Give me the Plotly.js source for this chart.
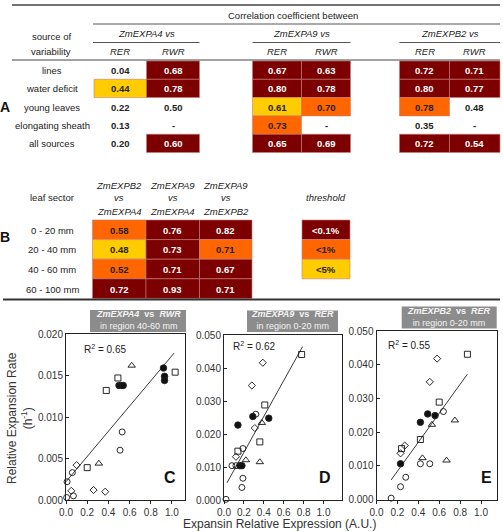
<!DOCTYPE html>
<html>
<head>
<meta charset="utf-8">
<script src="https://cdn.plot.ly/plotly-3.0.1.min.js"></script>
<style>
  html, body { margin: 0; padding: 0; background: #fff; }
  #fig { width: 503px; height: 532px; }
</style>
</head>
<body>
<div id="fig"></div>
<script>
// ---------------- Table A: correlation coefficients ----------------
const sourceRows = ['lines', 'water deficit', 'young leaves', 'elongating sheath', 'all sources'];
const geneGroupsA = ['ZmEXPA4 vs', 'ZmEXPA9 vs', 'ZmEXPB2 vs'];
const growthVars = ['RER', 'RWR'];
const a4RER = [0.04, 0.44, 0.22, 0.13, 0.20];
const a4RWR = [0.68, 0.78, 0.50, null, 0.60];
const a9RER = [0.67, 0.80, 0.61, 0.73, 0.65];
const a9RWR = [0.63, 0.78, 0.70, null, 0.69];
const b2RER = [0.72, 0.80, 0.78, 0.35, 0.72];
const b2RWR = [0.71, 0.77, 0.48, null, 0.54];
// significance level: 3 = <0.1%, 2 = <1%, 1 = <5%, 0 = not significant
const a4RERsig = [0, 1, 0, 0, 0];
const a4RWRsig = [3, 3, 0, 0, 3];
const a9RERsig = [3, 3, 1, 2, 3];
const a9RWRsig = [3, 3, 2, 0, 3];
const b2RERsig = [3, 3, 2, 0, 3];
const b2RWRsig = [3, 3, 0, 0, 3];

// ---------------- Table B: between-gene correlations ----------------
const leafSectors = ['0 - 20 mm', '20 - 40 mm', '40 - 60 mm', '60 - 100 mm'];
const pairHeaders = [['ZmEXPB2', 'vs', 'ZmEXPA4'], ['ZmEXPA9', 'vs', 'ZmEXPA4'], ['ZmEXPA9', 'vs', 'ZmEXPB2']];
const b2vsA4 = [0.58, 0.48, 0.52, 0.72];
const a9vsA4 = [0.76, 0.73, 0.71, 0.93];
const a9vsB2 = [0.82, 0.71, 0.67, 0.71];
const b2vsA4sig = [2, 1, 2, 3];
const a9vsA4sig = [3, 3, 3, 3];
const a9vsB2sig = [3, 2, 3, 3];
const thresholdLabels = ['&lt;0.1%', '&lt;1%', '&lt;5%'];
const thresholdLevels = [3, 2, 1];

// ---------------- Scatter panels ----------------
// kinds: o = open circle, s = open square, t = open triangle, d = open diamond, f = filled circle
const cX = [0.006, 0.01, 0.06, 0.51, 0.53, 0.10, 0.05, 0.07, 0.26, 0.37, 0.20, 0.38, 0.49, 1.03, 0.31, 0.62, 0.50, 0.52, 0.54, 0.92, 0.93, 0.93];
const cY = [0.0003, 0.0022, 0.0033, 0.0060, 0.0082, 0.0042, 0.0011, 0.0005, 0.0012, 0.0010, 0.0039, 0.0132, 0.0147, 0.0154, 0.0044, 0.0162, 0.0138, 0.0138, 0.0138, 0.0159, 0.0149, 0.0144];
const cKind = ['o', 'o', 'o', 'o', 'o', 'd', 'd', 'o', 'd', 'd', 's', 's', 's', 's', 't', 't', 'f', 'f', 'f', 'f', 'f', 'f'];

const dX = [0.02, 0.18, 0.19, 0.08, 0.12, 0.19, 0.32, 0.16, 0.18, 0.14, 0.29, 0.45, 0.14, 0.36, 0.41, 0.78, 0.22, 0.36, 0.38, 0.12, 0.31, 0.28, 0.39];
const dY = [0.0002, 0.0038, 0.0066, 0.0104, 0.0104, 0.0156, 0.0260, 0.0104, 0.0104, 0.0227, 0.0253, 0.0248, 0.0148, 0.0176, 0.0288, 0.0441, 0.0121, 0.0115, 0.0234, 0.0131, 0.0218, 0.0347, 0.0416];
const dKind = ['o', 'o', 'o', 'o', 'o', 'o', 'o', 'f', 'f', 'f', 'f', 'f', 's', 's', 's', 's', 't', 't', 't', 'd', 'd', 'd', 'd'];

const eX = [0.14, 0.23, 0.28, 0.42, 0.51, 0.64, 0.23, 0.42, 0.49, 0.56, 0.44, 0.67, 0.53, 0.75, 0.23, 0.27, 0.51, 0.58, 0.24, 0.42, 0.60, 0.87];
const eY = [0.0004, 0.0038, 0.0066, 0.0106, 0.0106, 0.0261, 0.0106, 0.0229, 0.0254, 0.0249, 0.0123, 0.0116, 0.0222, 0.0235, 0.0137, 0.0160, 0.0349, 0.0418, 0.0151, 0.0178, 0.0289, 0.0431];
const eKind = ['o', 'o', 'o', 'o', 'o', 'o', 'f', 'f', 'f', 'f', 't', 't', 't', 't', 'd', 'd', 'd', 'd', 's', 's', 's', 's'];

// regression lines (end points) and fit statistics
const cFitX = [0, 1.02], cFitY = [0.0022, 0.0177];
const dFitX = [0.03, 0.79], dFitY = [0.0052, 0.0465];
const eFitX = [0.14, 0.87], eFitY = [0.0058, 0.0372];
const r2Values = [0.65, 0.62, 0.55];
const panelGenes = ['ZmEXPA4', 'ZmEXPA9', 'ZmEXPB2'];
const panelVars = ['RWR', 'RER', 'RER'];
const panelRegions = ['40-60 mm', '0-20 mm', '0-20 mm'];
const panelLetters = ['C', 'D', 'E'];

// ---------------- drawing helpers ----------------
const W = 503, H = 532;
const FONT = 'Liberation Sans, Arial, sans-serif';
const px = x => x / W;
const py = y => 1 - y / H;
const shapes = [];
const annotations = [];

function hline(x0, x1, y, width, color) {
  shapes.push({type: 'line', xref: 'paper', yref: 'paper', x0: px(x0), x1: px(x1), y0: py(y), y1: py(y),
    line: {color: color || '#333', width: width || 1}});
}
function rect(x0, x1, y0, y1, fill, lineColor, lineW) {
  shapes.push({type: 'rect', xref: 'paper', yref: 'paper', x0: px(x0), x1: px(x1), y0: py(y1), y1: py(y0),
    fillcolor: fill, line: {color: lineColor || fill, width: lineW === undefined ? 0 : lineW}, layer: 'below'});
}
function text(t, x, y, opt) {
  opt = opt || {};
  annotations.push({text: t, xref: 'paper', yref: 'paper', x: px(x), y: py(y), showarrow: false,
    xanchor: opt.xanchor || 'center', yanchor: 'middle', textangle: opt.angle || 0,
    font: {family: FONT, size: opt.size || 9.5, color: opt.color || '#222'}});
}

const SIG_FILL = {3: '#7d0000', 2: '#ff6600', 1: '#ffcc00'};
const CELL_EDGE = '#c87a7a';
function cell(value, sig, x0, x1, y0, y1) {
  if (sig > 0) rect(x0, x1, y0, y1, SIG_FILL[sig], CELL_EDGE, 0.6);
  const label = value === null ? '-' : value.toFixed(2);
  const col = sig === 3 ? '#ffffff' : '#222';
  text('<b>' + label + '</b>', (x0 + x1) / 2, (y0 + y1) / 2 + 0.5, {color: col, size: 9.5});
}

// ---------------- Table A ----------------
hline(12, 500, 5, 1.6, '#444');
text('Correlation coefficient between', 293, 15);
hline(93, 500, 24, 1, '#555');
text('source of', 51, 36.5);
text('variability', 51, 51.5);
const groupSpans = [[93, 199.5], [252.5, 350.5], [399.5, 500]];
groupSpans.forEach((s, i) => {
  text('<i>' + geneGroupsA[i] + '</i>', (s[0] + s[1]) / 2, 33.5);
  hline(s[0], s[1], 42.5, 1, '#555');
});
const colEdgesA = [[94, 146.5, 199.5], [252.5, 301.5, 350.5], [399.5, 449.5, 500]];
colEdgesA.forEach(e => {
  text('<i>' + growthVars[0] + '</i>', (e[0] + e[1]) / 2, 51.5);
  text('<i>' + growthVars[1] + '</i>', (e[1] + e[2]) / 2, 51.5);
});
hline(12, 500, 60, 1, '#444');

const valsA = [[a4RER, a4RWR], [a9RER, a9RWR], [b2RER, b2RWR]];
const sigsA = [[a4RERsig, a4RWRsig], [a9RERsig, a9RWRsig], [b2RERsig, b2RWRsig]];
const rowTopA = 61, rowHA = 18.3;
sourceRows.forEach((r, i) => {
  const y0 = rowTopA + i * rowHA, y1 = y0 + rowHA;
  text(r, 52, (y0 + y1) / 2 + 0.5);
  for (let g = 0; g < 3; g++) {
    const e = colEdgesA[g];
    cell(valsA[g][0][i], sigsA[g][0][i], e[0], e[1], y0, y1);
    cell(valsA[g][1][i], sigsA[g][1][i], e[1], e[2], y0, y1);
  }
});
text('<b>A</b>', 5, 107, {size: 14, color: '#111'});

// ---------------- Table B ----------------
const colEdgesB = [92.5, 146, 199.5, 252];
pairHeaders.forEach((h, i) => {
  const cx = (colEdgesB[i] + colEdgesB[i + 1]) / 2;
  text('<i>' + h[0] + '</i>', cx, 185);
  text('<i>' + h[1] + '</i>', cx, 198);
  text('<i>' + h[2] + '</i>', cx, 211);
});
text('leaf sector', 52, 198);
text('<i>threshold</i>', 326, 198);
const valsB = [b2vsA4, a9vsA4, a9vsB2];
const sigsB = [b2vsA4sig, a9vsA4sig, a9vsB2sig];
const rowTopB = 220, rowHB = 19.6;
leafSectors.forEach((r, i) => {
  const y0 = rowTopB + i * rowHB, y1 = y0 + rowHB;
  text(r, 52, (y0 + y1) / 2 + 0.5);
  for (let c = 0; c < 3; c++) cell(valsB[c][i], sigsB[c][i], colEdgesB[c], colEdgesB[c + 1], y0, y1);
});
thresholdLabels.forEach((t, i) => {
  const y0 = rowTopB + i * rowHB, y1 = y0 + rowHB;
  const lev = thresholdLevels[i];
  rect(302, 350, y0, y1, SIG_FILL[lev], CELL_EDGE, 0.6);
  text('<b>' + t + '</b>', 326, (y0 + y1) / 2 + 0.5, {color: lev === 3 ? '#fff' : '#222'});
});
text('<b>B</b>', 5, 237, {size: 14, color: '#111'});
hline(3, 500, 299.5, 2, '#333');

// ---------------- Scatter panels ----------------
const panels = [
  {x: cX, y: cY, k: cKind, fx: cFitX, fy: cFitY, xd: [66, 185], yd: [334, 500], xr: 1.123, yr: 0.020, dy: 0.005,
   box: [90, 186, 310, 332], r2: [105, 349], letter: [170, 477]},
  {x: dX, y: dY, k: dKind, fx: dFitX, fy: dFitY, xd: [224, 342], yd: [335, 500], xr: 1.186, yr: 0.050, dy: 0.010,
   box: [247, 338, 310.5, 332], r2: [254, 346], letter: [325, 477]},
  {x: eX, y: eY, k: eKind, fx: eFitX, fy: eFitY, xd: [376.5, 497], yd: [331, 499.5], xr: 1.153, yr: 0.050, dy: 0.010,
   box: [401.7, 496.7, 306.5, 328.5], r2: [409, 345], letter: [486, 477]}
];

const SYM = {o: 'circle-open', s: 'square-open', t: 'triangle-up-open', d: 'diamond-open', f: 'circle'};
const SIZE = {o: 6, s: 6, t: 6.5, d: 5.5, f: 6.5};

const data = [];
const layout = {
  width: W, height: H, margin: {l: 0, r: 0, t: 0, b: 0},
  paper_bgcolor: '#fff', plot_bgcolor: '#fff', showlegend: false,
  font: {family: FONT, size: 10, color: '#333'},
  shapes: shapes, annotations: annotations
};

panels.forEach((p, i) => {
  const n = i === 0 ? '' : String(i + 1);
  const xa = 'x' + n, ya = 'y' + n;
  data.push({type: 'scatter', mode: 'lines', x: p.fx, y: p.fy, xaxis: xa, yaxis: ya,
    line: {color: '#222', width: 0.9}, hoverinfo: 'skip'});
  data.push({type: 'scatter', mode: 'markers', x: p.x, y: p.y, xaxis: xa, yaxis: ya, cliponaxis: false,
    marker: {symbol: p.k.map(k => SYM[k]), size: p.k.map(k => SIZE[k]), color: '#111', opacity: 1,
             line: {color: '#222', width: 0.9}}});
  layout['xaxis' + n] = {domain: [px(p.xd[0]), px(p.xd[1])], range: [0, p.xr], anchor: ya,
    dtick: 0.2, tick0: 0, tickformat: '.1f', showgrid: false, zeroline: false,
    showline: true, mirror: true, linecolor: '#222', linewidth: 1,
    ticks: 'outside', ticklen: 3, tickcolor: '#222', tickfont: {size: 10, color: '#333'}};
  layout['yaxis' + n] = {domain: [py(p.yd[1]), py(p.yd[0])], range: [0, p.yr], anchor: xa,
    dtick: p.dy, tick0: 0, tickformat: '.3f', showgrid: false, zeroline: false,
    showline: true, mirror: true, linecolor: '#222', linewidth: 1,
    ticks: 'inside', ticklen: 3, tickcolor: '#222', tickfont: {size: 10, color: '#333'}};

  // panel heading box with a two-line caption
  const b = p.box;
  shapes.push({type: 'rect', xref: 'paper', yref: 'paper', x0: px(b[0]), x1: px(b[1]), y0: py(b[3]), y1: py(b[2]),
    fillcolor: '#8c8c8c', line: {width: 0}});
  const cy = (b[2] + b[3]) / 2;
  text('<b><i>' + panelGenes[i] + '</i>  vs  <i>' + panelVars[i] + '</i></b><br>in region ' + panelRegions[i],
       (b[0] + b[1]) / 2, cy - 0.8, {size: 9, color: '#f4f4f4'});
  text('R<sup>2</sup> = ' + r2Values[i].toFixed(2), p.r2[0], p.r2[1], {size: 10, color: '#222'});
  text('<b>' + panelLetters[i] + '</b>', p.letter[0], p.letter[1], {size: 16, color: '#111'});
});

text('Relative Expansion Rate<br>(h<sup>-1</sup>)', 20, 418, {size: 12, angle: -90, color: '#333'});
text('Expansin Relative Expression (A.U.)', 279, 524, {size: 12, color: '#333'});

Plotly.newPlot('fig', data, layout, {staticPlot: true, displayModeBar: false});
</script>
</body>
</html>
